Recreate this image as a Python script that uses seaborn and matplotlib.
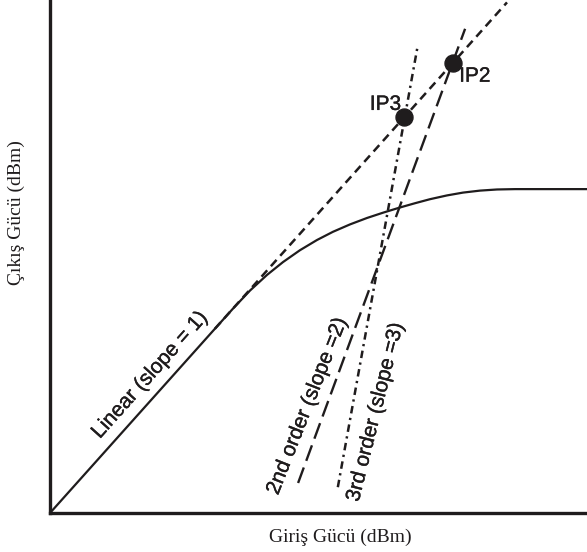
import numpy as np
import pandas as pd
import matplotlib
matplotlib.use("Agg")
import matplotlib.pyplot as plt
import matplotlib.patheffects as pe
import seaborn as sns

# Output power vs input power (arbitrary dB units, linear region has slope 1)
curve_in = [0, 30.7, 34.08, 37.24, 40.41, 43.39, 46.55, 49.72, 52.70, 55.87,
            59.03, 62.01, 65.18, 67.97, 70.76, 73.93, 76.91, 80.07, 83.24,
            86.59, 100.0]
curve_out = [0, 30.7, 34.07, 37.07, 39.68, 41.82, 43.80, 45.50, 46.87, 48.10,
             49.17, 50.05, 50.92, 51.63, 52.30, 52.93, 53.40, 53.73, 53.92,
             53.98, 53.98]

# Extrapolated lines (start, end)
linear_in = [30.7, 85.1]
linear_out = [30.7, 85.1]
second_in = [46.2, 77.3]
second_out = [5.0, 80.7]
third_in = [53.6, 68.4]
third_out = [4.3, 77.5]

# Intercept points
ip_names = ["IP3", "IP2"]
ip_in = [66.0, 75.0]
ip_out = [66.0, 75.0]

ink = "#1f1c1d"

sns.set_theme(style="white")
plt.rcParams["font.family"] = ["Liberation Sans", "DejaVu Sans"]

fig = plt.figure(figsize=(5.87, 5.52), dpi=100)
ax = fig.add_axes([50 / 587, 39 / 552, 537 / 587, 513 / 552])

sns.lineplot(x=curve_in, y=curve_out, ax=ax, color=ink, lw=1.6,
             sort=False, estimator=None)
sns.lineplot(x=linear_in, y=linear_out, ax=ax, color=ink, lw=1.8,
             linestyle=(0, (3.4, 2.2)), sort=False, estimator=None)
sns.lineplot(x=second_in, y=second_out, ax=ax, color=ink, lw=1.7,
             linestyle=(0, (7.0, 3.0)), sort=False, estimator=None)
sns.lineplot(x=third_in, y=third_out, ax=ax, color=ink, lw=1.8,
             linestyle=(0, (3.0, 1.8, 0.9, 1.8)), sort=False, estimator=None)

ip_df = pd.DataFrame({"x": ip_in, "y": ip_out, "name": ip_names})
sns.scatterplot(data=ip_df, x="x", y="y", ax=ax, color=ink, s=150,
                edgecolor=ink, zorder=5)

medium = [pe.withStroke(linewidth=0.25, foreground=ink)]
ax.text(ip_in[0] - 0.6, ip_out[0] + 2.1, ip_names[0], fontsize=15, color=ink,
        ha="right", va="center", path_effects=medium)
ax.text(ip_in[1] + 1.2, ip_out[1] - 2.2, ip_names[1], fontsize=15, color=ink,
        ha="left", va="center", path_effects=medium)

ax.text(18.6, 23.0, "Linear (slope = 1)", fontsize=15, color=ink,
        rotation=48.2, ha="center", va="center", rotation_mode="anchor",
        path_effects=medium)
ax.text(47.9, 17.8, "2nd order (slope =2)", fontsize=15, color=ink,
        rotation=68.5, ha="center", va="center", rotation_mode="anchor",
        path_effects=medium)
ax.text(60.6, 16.8, "3rd order (slope =3)", fontsize=15, color=ink,
        rotation=76.0, ha="center", va="center", rotation_mode="anchor",
        path_effects=medium)

ax.set_xlim(0, 100)
ax.set_ylim(0, 85.5)
ax.set_xticks([])
ax.set_yticks([])
sns.despine(ax=ax)
for side in ("left", "bottom"):
    ax.spines[side].set_linewidth(2.4)
    ax.spines[side].set_color(ink)

serif = ["Liberation Serif", "DejaVu Serif"]
ax.set_xlabel("Giriş Gücü (dBm)", fontsize=14, family=serif, color=ink)
ax.set_ylabel("Çıkış Gücü (dBm)", fontsize=14, family=serif, color=ink)
ax.xaxis.set_label_coords(0.54, -0.031)
ax.yaxis.set_label_coords(-0.046, 0.585)

fig.savefig("out.png", dpi=100)
